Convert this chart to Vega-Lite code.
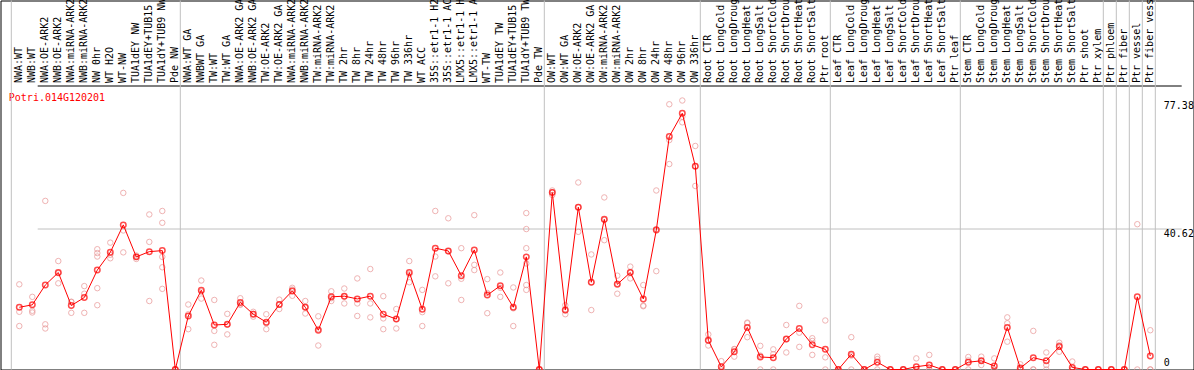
{
  "$schema": "https://vega.github.io/schema/vega-lite/v6.json",
  "autosize": {"type": "none"},
  "padding": {"left": 0.5, "top": 0.5, "right": 0.5, "bottom": 0.5},
  "width": 1193,
  "height": 369,
  "background": "white",
  "config": {"view": {"stroke": "black", "strokeWidth": 1}, "font": "DejaVu Sans Mono"},
  "datasets": {
    "samples": [
      {"i":0,"sample":"NWA:WT","group":"NW","mean":17.9},
      {"i":1,"sample":"NWB:WT","group":"NW","mean":18.6},
      {"i":2,"sample":"NWA:OE-ARK2","group":"NW","mean":24.3},
      {"i":3,"sample":"NWB:OE-ARK2","group":"NW","mean":27.9},
      {"i":4,"sample":"NWA:miRNA-ARK2","group":"NW","mean":18.4},
      {"i":5,"sample":"NWB:miRNA-ARK2","group":"NW","mean":20.7},
      {"i":6,"sample":"NW 0hr","group":"NW","mean":28.6},
      {"i":7,"sample":"WT H2O","group":"NW","mean":33.7},
      {"i":8,"sample":"WT-NW","group":"NW","mean":41.6},
      {"i":9,"sample":"TUA1dEY NW","group":"NW","mean":32.4},
      {"i":10,"sample":"TUA1dEY+TUB15 NW","group":"NW","mean":33.9},
      {"i":11,"sample":"TUA1dY+TUB9 NW","group":"NW","mean":34.2},
      {"i":12,"sample":"Pde NW","group":"NW","mean":0},
      {"i":13,"sample":"NWA:WT GA","group":"TW","mean":15.4},
      {"i":14,"sample":"NWBWT GA","group":"TW","mean":22.8},
      {"i":15,"sample":"TW:WT","group":"TW","mean":12.8},
      {"i":16,"sample":"TW:WT GA","group":"TW","mean":13.0},
      {"i":17,"sample":"NWA:OE-ARK2 GA","group":"TW","mean":19.3},
      {"i":18,"sample":"NWB:OE-ARK2 GA","group":"TW","mean":15.9},
      {"i":19,"sample":"TW:OE-ARK2","group":"TW","mean":13.6},
      {"i":20,"sample":"TW:OE-ARK2 GA","group":"TW","mean":18.7},
      {"i":21,"sample":"NWA:miRNA-ARK2 GA","group":"TW","mean":22.6},
      {"i":22,"sample":"NWB:miRNA-ARK2 GA","group":"TW","mean":17.9},
      {"i":23,"sample":"TW:miRNA-ARK2","group":"TW","mean":11.3},
      {"i":24,"sample":"TW:miRNA-ARK2 GA","group":"TW","mean":20.9},
      {"i":25,"sample":"TW 2hr","group":"TW","mean":21.1},
      {"i":26,"sample":"TW 8hr","group":"TW","mean":20.3},
      {"i":27,"sample":"TW 24hr","group":"TW","mean":21.1},
      {"i":28,"sample":"TW 48hr","group":"TW","mean":15.9},
      {"i":29,"sample":"TW 96hr","group":"TW","mean":14.5},
      {"i":30,"sample":"TW 336hr","group":"TW","mean":27.9},
      {"i":31,"sample":"WT ACC","group":"TW","mean":17.3},
      {"i":32,"sample":"35S::etr1-1 H2O","group":"TW","mean":34.9},
      {"i":33,"sample":"35S::etr1-1 ACC","group":"TW","mean":34.1},
      {"i":34,"sample":"LMX5::etr1-1 H2O","group":"TW","mean":27.0},
      {"i":35,"sample":"LMX5::etr1-1 ACC","group":"TW","mean":34.4},
      {"i":36,"sample":"WT-TW","group":"TW","mean":21.4},
      {"i":37,"sample":"TUA1dEY TW","group":"TW","mean":24.1},
      {"i":38,"sample":"TUA1dEY+TUB15 TW","group":"TW","mean":17.9},
      {"i":39,"sample":"TUA1dY+TUB9 TW","group":"TW","mean":32.4},
      {"i":40,"sample":"Pde TW","group":"TW","mean":0},
      {"i":41,"sample":"OW:WT","group":"OW","mean":50.9},
      {"i":42,"sample":"OW:WT GA","group":"OW","mean":17.1},
      {"i":43,"sample":"OW:OE-ARK2","group":"OW","mean":46.7},
      {"i":44,"sample":"OW:OE-ARK2 GA","group":"OW","mean":25.1},
      {"i":45,"sample":"OW:miRNA-ARK2","group":"OW","mean":43.2},
      {"i":46,"sample":"OW:miRNA-ARK2 GA","group":"OW","mean":24.5},
      {"i":47,"sample":"OW 2hr","group":"OW","mean":27.9},
      {"i":48,"sample":"OW 8hr","group":"OW","mean":20.3},
      {"i":49,"sample":"OW 24hr","group":"OW","mean":40.1},
      {"i":50,"sample":"OW 48hr","group":"OW","mean":67.0},
      {"i":51,"sample":"OW 96hr","group":"OW","mean":73.7},
      {"i":52,"sample":"OW 336hr","group":"OW","mean":58.5},
      {"i":53,"sample":"Root CTR","group":"Root","mean":8.4},
      {"i":54,"sample":"Root LongCold","group":"Root","mean":0.8},
      {"i":55,"sample":"Root LongDrought","group":"Root","mean":5.1},
      {"i":56,"sample":"Root LongHeat","group":"Root","mean":12.1},
      {"i":57,"sample":"Root LongSalt","group":"Root","mean":3.6},
      {"i":58,"sample":"Root ShortCold","group":"Root","mean":3.4},
      {"i":59,"sample":"Root ShortDrought","group":"Root","mean":8.8},
      {"i":60,"sample":"Root ShortHeat","group":"Root","mean":11.8},
      {"i":61,"sample":"Root ShortSalt","group":"Root","mean":7.1},
      {"i":62,"sample":"Ptr root","group":"Root","mean":5.8},
      {"i":63,"sample":"Leaf CTR","group":"Leaf","mean":0},
      {"i":64,"sample":"Leaf LongCold","group":"Leaf","mean":4.4},
      {"i":65,"sample":"Leaf LongDrought","group":"Leaf","mean":0},
      {"i":66,"sample":"Leaf LongHeat","group":"Leaf","mean":2.1},
      {"i":67,"sample":"Leaf LongSalt","group":"Leaf","mean":0},
      {"i":68,"sample":"Leaf ShortCold","group":"Leaf","mean":0},
      {"i":69,"sample":"Leaf ShortDrought","group":"Leaf","mean":0.8},
      {"i":70,"sample":"Leaf ShortHeat","group":"Leaf","mean":1.3},
      {"i":71,"sample":"Leaf ShortSalt","group":"Leaf","mean":0},
      {"i":72,"sample":"Ptr leaf","group":"Leaf","mean":0},
      {"i":73,"sample":"Stem CTR","group":"Stem","mean":2.1},
      {"i":74,"sample":"Stem LongCold","group":"Stem","mean":2.5},
      {"i":75,"sample":"Stem LongDrought","group":"Stem","mean":1.0},
      {"i":76,"sample":"Stem LongHeat","group":"Stem","mean":12.1},
      {"i":77,"sample":"Stem LongSalt","group":"Stem","mean":0.4},
      {"i":78,"sample":"Stem ShortCold","group":"Stem","mean":3.4},
      {"i":79,"sample":"Stem ShortDrought","group":"Stem","mean":2.5},
      {"i":80,"sample":"Stem ShortHeat","group":"Stem","mean":6.6},
      {"i":81,"sample":"Stem ShortSalt","group":"Stem","mean":0.6},
      {"i":82,"sample":"Ptr shoot","group":"Stem","mean":0},
      {"i":83,"sample":"Ptr xylem","group":"Stem","mean":0},
      {"i":84,"sample":"Ptr phloem","group":"phloem","mean":0},
      {"i":85,"sample":"Ptr fiber","group":"fiber","mean":0},
      {"i":86,"sample":"Ptr vessel","group":"vessel","mean":20.9},
      {"i":87,"sample":"Ptr fiber vessel","group":"fibervessel","mean":3.9}
    ],
    "reps": [
      {"i":0,"v":24.5},{"i":0,"v":16.6},{"i":0,"v":12.5},
      {"i":1,"v":20.9},{"i":1,"v":16.9},{"i":1,"v":16.4},
      {"i":2,"v":48.5},{"i":2,"v":13.0},{"i":2,"v":11.8},
      {"i":3,"v":31.2},{"i":3,"v":27.7},{"i":3,"v":24.8},
      {"i":4,"v":19.5},{"i":4,"v":19.4},{"i":4,"v":16.3},
      {"i":5,"v":24.0},{"i":5,"v":21.8},{"i":5,"v":16.3},
      {"i":6,"v":34.6},{"i":6,"v":33.5},{"i":6,"v":32.5},{"i":6,"v":23.4},{"i":6,"v":18.5},
      {"i":7,"v":36.5},{"i":7,"v":33.0},{"i":7,"v":32.0},
      {"i":8,"v":50.8},{"i":8,"v":40.0},{"i":8,"v":33.7},
      {"i":9,"v":32.8},{"i":9,"v":32.4},{"i":9,"v":31.8},
      {"i":10,"v":44.6},{"i":10,"v":36.7},{"i":10,"v":19.7},
      {"i":11,"v":45.6},{"i":11,"v":42.2},{"i":11,"v":32.4},{"i":11,"v":29.4},{"i":11,"v":23.2},
      {"i":12,"v":0},{"i":12,"v":0},{"i":12,"v":0},
      {"i":13,"v":18.7},{"i":13,"v":15.9},{"i":13,"v":11.6},
      {"i":14,"v":25.6},{"i":14,"v":22.4},{"i":14,"v":20.4},
      {"i":15,"v":20.0},{"i":15,"v":11.1},{"i":15,"v":7.1},
      {"i":16,"v":16.0},{"i":16,"v":12.9},{"i":16,"v":10.1},
      {"i":17,"v":20.5},{"i":17,"v":18.8},{"i":17,"v":18.6},
      {"i":18,"v":16.6},{"i":18,"v":16.0},{"i":18,"v":15.2},
      {"i":19,"v":15.9},{"i":19,"v":13.3},{"i":19,"v":11.6},
      {"i":20,"v":20.1},{"i":20,"v":18.7},{"i":20,"v":17.4},
      {"i":21,"v":23.5},{"i":21,"v":23.0},{"i":21,"v":21.2},
      {"i":22,"v":19.7},{"i":22,"v":18.0},{"i":22,"v":16.1},
      {"i":23,"v":15.3},{"i":23,"v":11.6},{"i":23,"v":6.9},
      {"i":24,"v":22.5},{"i":24,"v":20.5},{"i":24,"v":19.7},
      {"i":25,"v":23.3},{"i":25,"v":21.0},{"i":25,"v":19.0},
      {"i":26,"v":26.2},{"i":26,"v":19.0},{"i":26,"v":15.4},
      {"i":27,"v":28.9},{"i":27,"v":19.0},{"i":27,"v":15.0},
      {"i":28,"v":21.1},{"i":28,"v":14.7},{"i":28,"v":11.6},
      {"i":29,"v":17.4},{"i":29,"v":14.5},{"i":29,"v":11.8},
      {"i":30,"v":31.2},{"i":30,"v":27.4},{"i":30,"v":25.1},
      {"i":31,"v":22.9},{"i":31,"v":16.5},{"i":31,"v":12.5},
      {"i":32,"v":45.6},{"i":32,"v":32.5},{"i":32,"v":26.8},
      {"i":33,"v":43.5},{"i":33,"v":34.0},{"i":33,"v":24.8},
      {"i":34,"v":34.9},{"i":34,"v":26.1},{"i":34,"v":20.0},
      {"i":35,"v":44.4},{"i":35,"v":30.1},{"i":35,"v":28.6},
      {"i":36,"v":26.0},{"i":36,"v":22.0},{"i":36,"v":16.2},
      {"i":37,"v":27.9},{"i":37,"v":23.5},{"i":37,"v":20.9},
      {"i":38,"v":23.6},{"i":38,"v":17.6},{"i":38,"v":12.5},
      {"i":39,"v":45.0},{"i":39,"v":40.4},{"i":39,"v":34.9},{"i":39,"v":30.5},{"i":39,"v":24.3},{"i":39,"v":22.9},
      {"i":40,"v":0},{"i":40,"v":0},{"i":40,"v":0},
      {"i":41,"v":51.5},{"i":41,"v":51.0},{"i":41,"v":50.2},
      {"i":42,"v":18.5},{"i":42,"v":17.0},{"i":42,"v":15.9},
      {"i":43,"v":53.8},{"i":43,"v":46.7},{"i":43,"v":39.6},
      {"i":44,"v":33.1},{"i":44,"v":25.1},{"i":44,"v":17.1},
      {"i":45,"v":49.5},{"i":45,"v":43.0},{"i":45,"v":37.2},
      {"i":46,"v":27.0},{"i":46,"v":24.7},{"i":46,"v":21.8},
      {"i":47,"v":29.6},{"i":47,"v":28.0},{"i":47,"v":26.2},
      {"i":48,"v":24.3},{"i":48,"v":18.4},{"i":48,"v":18.2},
      {"i":49,"v":51.5},{"i":49,"v":40.4},{"i":49,"v":28.3},
      {"i":50,"v":76.3},{"i":50,"v":66.0},{"i":50,"v":59.1},
      {"i":51,"v":77.38},{"i":51,"v":72.7},{"i":51,"v":71.1},
      {"i":52,"v":64.3},{"i":52,"v":58.5},{"i":52,"v":52.8},
      {"i":53,"v":10.1},{"i":53,"v":8.3},{"i":53,"v":6.9},
      {"i":54,"v":2.4},{"i":54,"v":0.1},{"i":54,"v":0},
      {"i":55,"v":5.9},{"i":55,"v":5.8},{"i":55,"v":3.7},
      {"i":56,"v":13.5},{"i":56,"v":13.3},{"i":56,"v":9.3},
      {"i":57,"v":6.8},{"i":57,"v":4.0},{"i":57,"v":0},
      {"i":58,"v":5.8},{"i":58,"v":4.4},{"i":58,"v":0},
      {"i":59,"v":12.8},{"i":59,"v":8.7},{"i":59,"v":4.9},
      {"i":60,"v":18.3},{"i":60,"v":10.6},{"i":60,"v":6.5},
      {"i":61,"v":9.0},{"i":61,"v":8.2},{"i":61,"v":4.2},
      {"i":62,"v":14.1},{"i":62,"v":3.5},{"i":62,"v":0},
      {"i":63,"v":0},{"i":63,"v":0},{"i":63,"v":0},
      {"i":64,"v":9.3},{"i":64,"v":4.0},{"i":64,"v":0},
      {"i":65,"v":0},{"i":65,"v":0},{"i":65,"v":0},
      {"i":66,"v":3.7},{"i":66,"v":3.0},{"i":66,"v":0},
      {"i":67,"v":0},{"i":67,"v":0},{"i":67,"v":0},
      {"i":68,"v":0},{"i":68,"v":0},{"i":68,"v":0},
      {"i":69,"v":3.2},{"i":69,"v":0},{"i":69,"v":0},
      {"i":70,"v":4.2},{"i":70,"v":0},{"i":70,"v":0},
      {"i":71,"v":0},{"i":71,"v":0},{"i":71,"v":0},
      {"i":72,"v":0},{"i":72,"v":0},{"i":72,"v":0},
      {"i":73,"v":3.6},{"i":73,"v":2.6},{"i":73,"v":0},
      {"i":74,"v":3.7},{"i":74,"v":2.5},{"i":74,"v":1.3},
      {"i":75,"v":3.2},{"i":75,"v":0},{"i":75,"v":0},
      {"i":76,"v":15.0},{"i":76,"v":13.3},{"i":76,"v":8.0},
      {"i":77,"v":1.5},{"i":77,"v":0},{"i":77,"v":0},
      {"i":78,"v":11.1},{"i":78,"v":0},{"i":78,"v":0},
      {"i":79,"v":4.9},{"i":79,"v":1.3},{"i":79,"v":0},
      {"i":80,"v":7.7},{"i":80,"v":7.0},{"i":80,"v":5.1},
      {"i":81,"v":2.3},{"i":81,"v":0},{"i":81,"v":0},
      {"i":82,"v":0},{"i":82,"v":0},{"i":82,"v":0},
      {"i":83,"v":0},{"i":83,"v":0},{"i":83,"v":0},
      {"i":84,"v":0},{"i":84,"v":0},{"i":84,"v":0},
      {"i":85,"v":0},{"i":85,"v":0},{"i":85,"v":0},
      {"i":86,"v":41.8},{"i":86,"v":0},
      {"i":87,"v":11.3},{"i":87,"v":0},{"i":87,"v":0}
    ]
  },
  "layer": [
    {
      "data": {"name": "samples"},
      "transform": [
        {"window": [{"op": "row_number", "as": "rn"}], "groupby": ["group"], "sort": [{"field": "i", "order": "ascending"}]},
        {"filter": "datum.rn == 1"}
      ],
      "mark": {"type": "rule", "color": "#c0c0c0", "strokeWidth": 1},
      "encoding": {
        "x": {"field": "sample", "type": "nominal", "sort": {"field": "i", "op": "min"}, "bandPosition": -0.1154}
      }
    },
    {
      "data": {"name": "samples"},
      "transform": [
        {"window": [{"op": "row_number", "as": "rn"}], "sort": [{"field": "i", "order": "descending"}]},
        {"filter": "datum.rn == 1"}
      ],
      "mark": {"type": "rule", "color": "#c0c0c0", "strokeWidth": 1},
      "encoding": {
        "x": {"field": "sample", "type": "nominal", "sort": {"field": "i", "op": "min"}, "bandPosition": 0.8846}
      }
    },
    {
      "data": {"name": "reps"},
      "transform": [
        {"lookup": "i", "from": {"data": {"name": "samples"}, "key": "i", "fields": ["sample"]}}
      ],
      "mark": {"type": "point", "shape": "circle", "filled": false, "color": "#e99393", "size": 30, "strokeWidth": 1},
      "encoding": {
        "x": {"field": "sample", "type": "nominal", "sort": {"field": "i", "op": "min"}},
        "y": {"field": "v", "type": "quantitative"}
      }
    },
    {
      "data": {"name": "samples"},
      "mark": {"type": "line", "color": "#ff0000", "strokeWidth": 1},
      "encoding": {
        "x": {"field": "sample", "type": "nominal", "sort": {"field": "i", "op": "min"}},
        "y": {"field": "mean", "type": "quantitative"},
        "order": {"field": "i", "type": "quantitative"}
      }
    },
    {
      "data": {"name": "samples"},
      "mark": {"type": "point", "shape": "circle", "filled": false, "color": "#ff0000", "size": 30, "strokeWidth": 1.5},
      "encoding": {
        "x": {
          "field": "sample", "type": "nominal", "sort": {"field": "i", "op": "min"},
          "scale": {"type": "band", "paddingInner": 0, "paddingOuter": 0, "range": [12.3, 1156.3]},
          "axis": {
            "orient": "top", "offset": -85, "title": null, "ticks": false, "grid": false,
            "domain": false,
            "labelAngle": 270, "labelAlign": "left", "labelBaseline": "middle", "labelPadding": 3,
            "labelFont": "DejaVu Sans Mono", "labelFontSize": 10, "labelColor": "#000000",
            "labelOverlap": false, "labelLimit": 400, "labelBound": false, "labelFlush": false
          }
        },
        "y": {
          "field": "mean", "type": "quantitative",
          "scale": {"domain": [0, 106.15], "nice": false, "zero": true},
          "axis": {
            "orient": "right", "values": [0, 40.62, 77.38, 81.7],
            "labelExpr": "datum.value > 80 ? '' : '' + datum.value",
            "ticks": false, "domain": false, "grid": true,
            "gridColor": {"condition": {"test": "datum.value > 80", "value": "#000000"}, "value": "#c0c0c0"},
            "gridOpacity": {"condition": {"test": "datum.value == 0 || datum.value == 77.38", "value": 0}, "value": 1},
            "labelAlign": "left", "labelPadding": -30.2,
            "labelBaseline": {"condition": {"test": "datum.value == 0", "value": "alphabetic"}, "value": "top"},
            "labelOffset": {"condition": {"test": "datum.value == 0", "value": -4.5}, "value": 0},
            "labelFont": "DejaVu Sans Mono", "labelFontSize": 10, "labelColor": "#000000",
            "labelFlush": false, "labelOverlap": false,
            "title": "Potri.014G120201", "titleAngle": 0, "titleX": -1185.2, "titleY": 100,
            "titleAlign": "left", "titleBaseline": "alphabetic", "titleColor": "#ff0000",
            "titleFont": "DejaVu Sans Mono", "titleFontSize": 10, "titleFontWeight": "normal"
          }
        }
      }
    }
  ]
}
